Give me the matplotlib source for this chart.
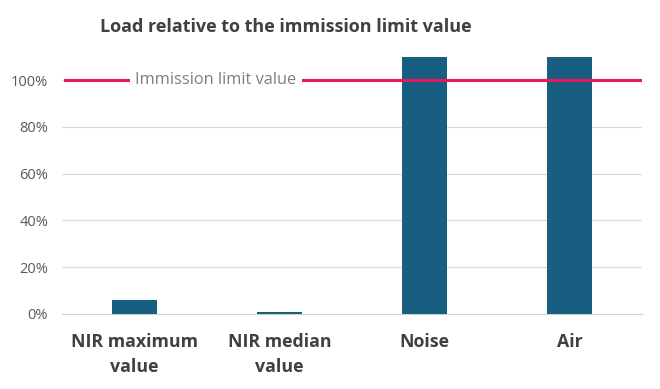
import matplotlib.pyplot as plt
import numpy as np

categories = ['NIR maximum\nvalue', 'NIR median\nvalue', 'Noise', 'Air']
load = [0.06, 0.01, 1.10, 1.10]
limit = 1.0
yticks = [0, 0.2, 0.4, 0.6, 0.8, 1.0]

plt.rcParams['font.family'] = ['Open Sans', 'DejaVu Sans']

fig = plt.figure(figsize=(6.6, 3.89), dpi=100)
ax = fig.add_axes([0.094, 0.193, 0.879, 0.661])

x = np.arange(len(categories))
ax.bar(x, load, width=0.31, color='#175e80', zorder=3)
ax.set_xlim(-0.5, len(categories) - 0.5)
ax.set_ylim(0, 1.1)

ax.set_yticks(yticks)
ax.set_yticklabels(['{:.0f}%'.format(v * 100) for v in yticks], color='#595959', fontsize=10.5)
ax.grid(axis='y', color='#d9d9d9', linewidth=0.9, zorder=0)
ax.set_xticks(x)
ax.set_xticklabels(categories, fontsize=12.8, fontweight='bold', color='#404040',
                   linespacing=1.45)
ax.tick_params(length=0)
ax.tick_params(axis='x', pad=14)
ax.tick_params(axis='y', pad=10)

for s in ['top', 'right', 'left']:
    ax.spines[s].set_visible(False)
ax.spines['bottom'].set_color('#d0d0d0')

ax.axhline(limit, xmin=0.005, xmax=1.0, color='#e8185e', linewidth=2.2, zorder=4)
ax.text(0.56, limit, 'Immission limit value', ha='center', va='center', fontsize=11.8,
        color='#7f7f7f', zorder=5, bbox=dict(facecolor='white', edgecolor='none', pad=4))

fig.text(0.152, 0.93, 'Load relative to the immission limit value', fontsize=13,
         fontweight='bold', color='#404040', va='center')

fig.savefig('out.png')
